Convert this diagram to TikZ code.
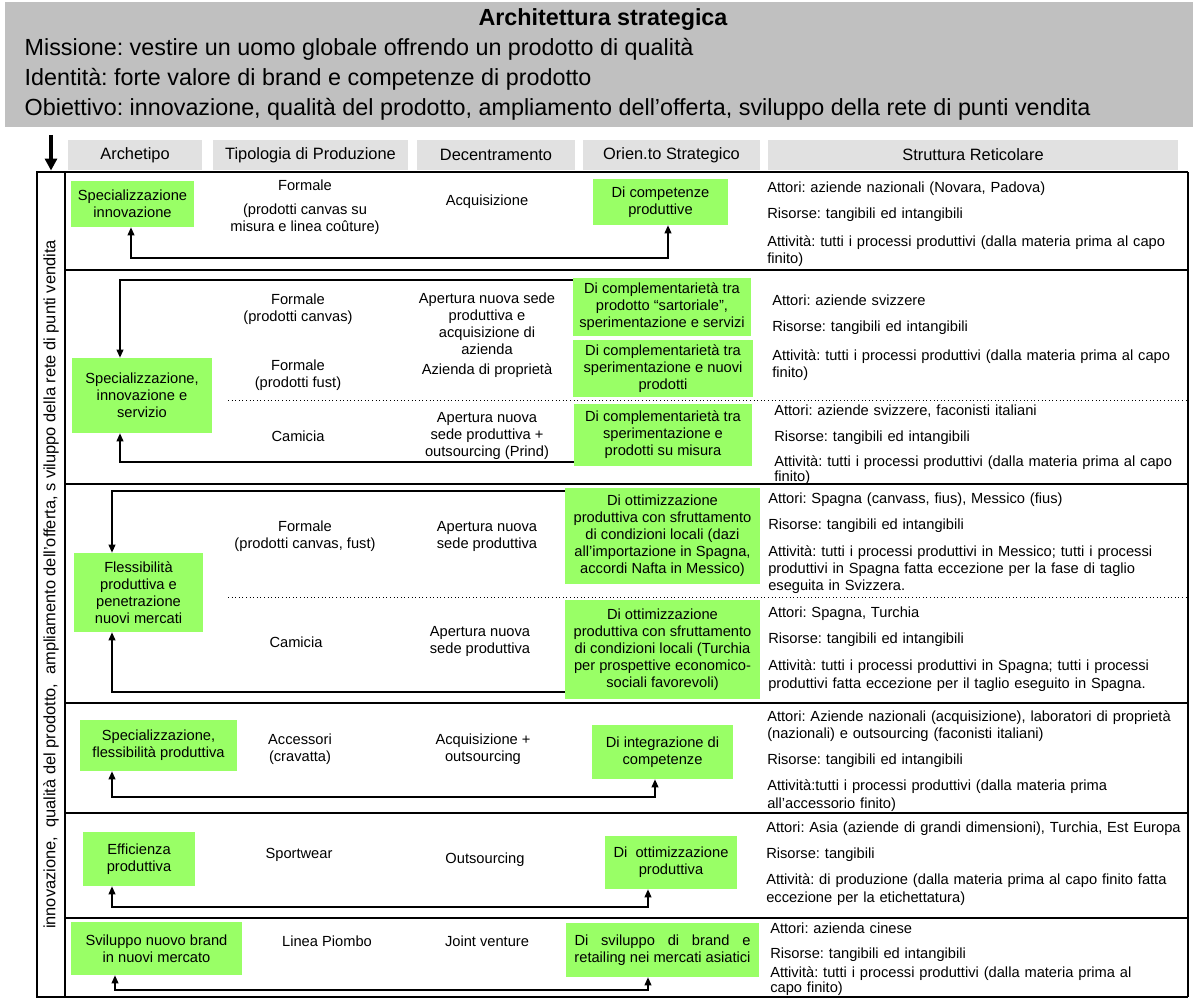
\documentclass[tikz,border=0pt]{standalone}
\usepackage{fontspec}
\setmainfont{Liberation Sans}
\frenchspacing
\usetikzlibrary{arrows.meta,fit}
\definecolor{verde}{RGB}{153,255,102}
\definecolor{grigio}{RGB}{192,192,192}
\definecolor{grigiochiaro}{RGB}{225,225,225}
\newcommand{\corpo}{\fontsize{11}{12.75}\selectfont}
\newcommand{\testata}{\fontsize{12.3}{14}\selectfont}
\newcommand{\grande}{\fontsize{17.5}{21}\selectfont}
\newcommand{\jl}[2][306pt]{\makebox[#1][s]{#2}}
\tikzset{
  dim/.style 2 args={minimum width=#1*0.75pt, minimum height=#2*0.75pt},
  verdebox/.style={fill=verde, inner sep=0pt, align=center, font=\corpo},
  cella/.style={fill=grigiochiaro, inner sep=0pt, font=\testata},
  testo/.style={inner sep=0pt, align=center, font=\corpo},
  info/.style={anchor=north west, inner sep=0pt, align=left, font=\corpo, text width=320pt},
  freccia/.style={line width=1.2pt, -{Triangle[length=6pt,width=5pt]}},
  doppia/.style={line width=1.2pt, {Triangle[length=6pt,width=5pt]}-{Triangle[length=6pt,width=5pt]}},
  riga/.style={line width=2pt},
}
\begin{document}
\begin{tikzpicture}[x=0.75pt, y=-0.75pt]
	\useasboundingbox (0,0) rectangle (1193,999);
	\fill[grigio] (5,2) rectangle (1193,127);
	\node[font=\grande\bfseries, anchor=base] (titolo) at (603,26) {Architettura strategica};
	\node[font=\grande, anchor=base west] (missione) at (20,56) {Missione: vestire un uomo globale offrendo un prodotto di qualità};
	\node[font=\grande, anchor=base west] (identita) at (20,86) {Identità: forte valore di brand e competenze di prodotto};
	\node[font=\grande, anchor=base west] (obiettivo) at (20,116) {Obiettivo: innovazione, qualità del prodotto, ampliamento dell’offerta, sviluppo della rete di punti vendita};

	\node[cella, dim={134}{30}] (h1) at (135,155) {Archetipo};
	\node[cella, dim={195}{30}] (h2) at (310.5,155) {Tipologia di Produzione};
	\node[cella, dim={158}{30}] (h3) at (496,155) {Decentramento};
	\node[cella, dim={177}{30}] (h4) at (671.5,155) {Orien.to Strategico};
	\node[cella, dim={410}{30}] (h5) at (973,155) {Struttura Reticolare};

	\node[draw, line width=2.2pt, inner sep=0pt, fit={(37,172)(65,997)}] (colonna) {};
	\node[rotate=90, font=\testata] (scopo) at (colonna.center) {innovazione,\ \ qualità del prodotto,\ \ ampliamento dell’offerta, s viluppo della rete di punti vendita};
	\coordinate (inizio) at (51,135);
	\draw[line width=2.5pt, -{Triangle[length=9pt,width=9pt]}] (inizio) -- (colonna.north);

	\draw[riga] (1188,172) -- (65,172) -- (65,997) -- (1188,997);
	\draw[line width=1pt] (1188,172) -- (1188,997);
	\draw[riga] (65,270) -- (1188,270);
	\draw[riga] (65,484) -- (1188,484);
	\draw[riga] (65,703) -- (1188,703);
	\draw[riga] (65,813) -- (1188,813);
	\draw[riga] (65,918) -- (1188,918);
	\draw[dotted, line width=0.7pt] (228,400) -- (1188,400);
	\draw[dotted, line width=0.7pt] (228,597) -- (1188,597);

	% riga 1
	\node[verdebox, dim={123}{46}] (a1) at (132.5,204) {Specializzazione\\innovazione};
	\node[testo] (t1) at (305,207) {Formale\\[5pt](prodotti canvas su\\misura e linea coûture)};
	\node[testo] (d1) at (487,202) {Acquisizione};
	\node[verdebox, dim={135}{46}] (o1) at (660.5,202) {Di competenze\\produttive};
	\node[info] (s1) at (767,180) {\strut Attori: aziende nazionali (Novara, Padova)\\[6.75pt]Risorse: tangibili ed intangibili\\[8.25pt]Attività: tutti i processi produttivi (dalla materia prima al capo\\finito)};
	\coordinate (l1a) at (131,258);
	\coordinate (l1b) at (668,258);
	\draw[doppia] (a1.south -| l1a) -- (l1a) -- (l1b) -- (l1b |- o1.south);

	% riga 2
	\node[verdebox, dim={140}{75}] (a2) at (142,395.5) {Specializzazione,\\innovazione e\\servizio};
	\node[testo] (t2a) at (298,309) {Formale\\(prodotti canvas)};
	\node[testo] (d2a) at (487,324) {Apertura nuova sede\\produttiva e\\acquisizione di\\azienda};
	\node[testo] (t2b) at (298,375) {Formale\\(prodotti fust)};
	\node[testo] (d2b) at (487,371) {Azienda di proprietà};
	\node[testo] (t2c) at (298,436) {Camicia};
	\node[testo] (d2c) at (487,436) {Apertura nuova\\sede produttiva +\\outsourcing (Prind)};
	\node[verdebox, dim={178}{58}] (o2a) at (662,307) {Di complementarietà tra\\prodotto “sartoriale”,\\sperimentazione e servizi};
	\node[verdebox, dim={180}{57}] (o2b) at (663,368.5) {Di complementarietà tra\\sperimentazione e nuovi\\prodotti};
	\node[verdebox, dim={178}{62}] (o2c) at (663,435) {Di complementarietà tra\\sperimentazione e\\prodotti su misura};
	\node[info] (s2a) at (772,293) {\strut Attori: aziende svizzere\\[6.75pt]Risorse: tangibili ed intangibili\\[9pt]\jl[307pt]{Attività: tutti i processi produttivi (dalla materia prima al capo}\\finito)};
	\node[info] (s2b) at (774,403) {\strut Attori: aziende svizzere, faconisti italiani\\[6.75pt]Risorse: tangibili ed intangibili\\[6pt]\jl[306pt]{Attività: tutti i processi produttivi (dalla materia prima al capo}\\[-1.5pt]finito)};
	\coordinate (l2a) at (120,280);
	\coordinate (l2b) at (120,462);
	\draw[freccia] (o2a.west |- l2a) -- (l2a) -- (l2a |- a2.north);
	\draw[freccia] (o2c.west |- l2b) -- (l2b) -- (l2b |- a2.south);

	% riga 3
	\node[verdebox, dim={129}{79}] (a3) at (138.5,592.5) {Flessibilità\\produttiva e\\penetrazione\\nuovi mercati};
	\node[testo] (t3a) at (305,536) {Formale\\(prodotti canvas, fust)};
	\node[testo] (d3a) at (487,536) {Apertura nuova\\sede produttiva};
	\node[testo] (t3b) at (296,642) {Camicia};
	\node[testo] (d3b) at (480,641) {Apertura nuova\\sede produttiva};
	\node[verdebox, dim={195}{96}] (o3a) at (662.5,536) {Di ottimizzazione\\produttiva con sfruttamento\\di condizioni locali (dazi\\all’importazione in Spagna,\\accordi Nafta in Messico)};
	\node[verdebox, dim={195}{99}] (o3b) at (662.5,649.5) {Di ottimizzazione\\produttiva con sfruttamento\\di condizioni locali (Turchia\\per prospettive economico-\\sociali favorevoli)};
	\node[info] (s3a) at (768,491) {\strut Attori: Spagna (canvass, fius), Messico (fius)\\[6.75pt]Risorse: tangibili ed intangibili\\[7.5pt]\jl[300pt]{Attività: tutti i processi produttivi in Messico; tutti i processi}\\\jl[300pt]{produttivi in Spagna fatta eccezione per la fase di taglio}\\eseguita in Svizzera.};
	\node[info] (s3b) at (768,605) {\strut Attori: Spagna, Turchia\\[6.75pt]Risorse: tangibili ed intangibili\\[7.5pt]\jl[300pt]{Attività: tutti i processi produttivi in Spagna; tutti i processi}\\[0.75pt]produttivi fatta eccezione per il taglio eseguito in Spagna.};
	\coordinate (l3a) at (112,491);
	\coordinate (l3b) at (112,692);
	\draw[freccia] (o3a.west |- l3a) -- (l3a) -- (l3a |- a3.north);
	\draw[freccia] (o3b.west |- l3b) -- (l3b) -- (l3b |- a3.south);

	% riga 4
	\node[verdebox, dim={157}{51}] (a4) at (158.5,745.5) {Specializzazione,\\flessibilità produttiva};
	\node[testo] (t4) at (300,749) {Accessori\\(cravatta)};
	\node[testo] (d4) at (483,749) {Acquisizione +\\outsourcing};
	\node[verdebox, dim={141}{54}] (o4) at (662.5,752) {Di integrazione di\\competenze};
	\node[info] (s4) at (767,709) {\strut\jl[310pt]{Attori: Aziende nazionali (acquisizione), laboratori di proprietà}\\(nazionali) e outsourcing (faconisti italiani)\\[6.75pt]Risorse: tangibili ed intangibili\\[6.75pt]\jl[310pt]{Attività:tutti i processi produttivi (dalla materia prima}\\[0.75pt]all’accessorio finito)};
	\coordinate (l4a) at (112,797);
	\coordinate (l4b) at (655,797);
	\draw[doppia] (a4.south -| l4a) -- (l4a) -- (l4b) -- (l4b |- o4.south);

	% riga 5
	\node[verdebox, dim={112}{54}] (a5) at (139,859) {Efficienza\\produttiva};
	\node[testo] (t5) at (299,855) {Sportwear};
	\node[testo] (d5) at (485,860) {Outsourcing};
	\node[verdebox, dim={132}{53}] (o5) at (671,862.5) {Di\ \ ottimizzazione\\produttiva};
	\node[info] (s5) at (766,820) {\strut Attori: Asia (aziende di grandi dimensioni), Turchia, Est Europa\\[6.75pt]Risorse: tangibili\\[6.75pt]\jl[312pt]{Attività: di produzione (dalla materia prima al capo finito fatta}\\[0.75pt]eccezione per la etichettatura)};
	\coordinate (l5a) at (112,907);
	\coordinate (l5b) at (648,907);
	\draw[doppia] (a5.south -| l5a) -- (l5a) -- (l5b) -- (l5b |- o5.south);

	% riga 6
	\node[verdebox, dim={171}{53}] (a6) at (156.5,948.5) {Sviluppo nuovo brand\\in nuovi mercato};
	\node[testo] (t6) at (327,941) {Linea Piombo};
	\node[testo] (d6) at (487,941) {Joint venture};
	\node[verdebox, dim={193}{54}] (o6) at (662.5,950) {\jl[132pt]{Di sviluppo di brand e}\\retailing nei mercati asiatici};
	\node[info] (s6) at (770,921) {\strut Attori: azienda cinese\\[6pt]Risorse: tangibili ed intangibili\\[1.5pt]\jl[300pt]{Attività: tutti i processi produttivi (dalla materia prima al}\\[-1.5pt]capo finito)};
	\coordinate (l6a) at (115,990);
	\coordinate (l6b) at (648,990);
	\draw[doppia] (a6.south -| l6a) -- (l6a) -- (l6b) -- (l6b |- o6.south);
\end{tikzpicture}
\end{document}
